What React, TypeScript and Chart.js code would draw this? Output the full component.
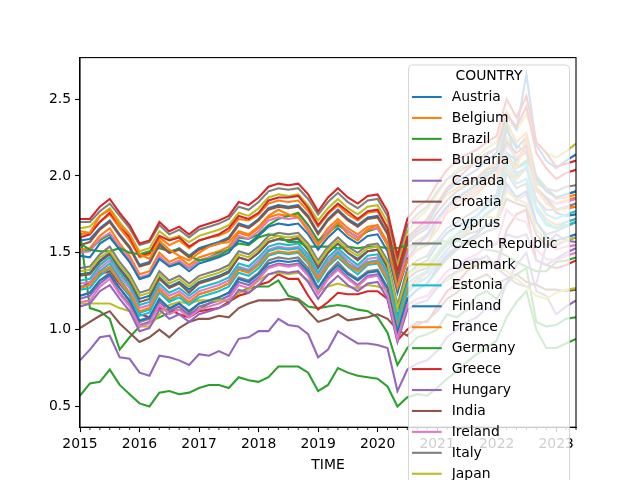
import React, { useEffect, useRef } from 'react';
import { Chart, registerables } from 'chart.js';

Chart.register(...registerables);

// bi-monthly sampling, Jan 2015 .. May 2023
const TIME = [
  '2015-01', '2015-03', '2015-05', '2015-07', '2015-09', '2015-11',
  '2016-01', '2016-03', '2016-05', '2016-07', '2016-09', '2016-11',
  '2017-01', '2017-03', '2017-05', '2017-07', '2017-09', '2017-11',
  '2018-01', '2018-03', '2018-05', '2018-07', '2018-09', '2018-11',
  '2019-01', '2019-03', '2019-05', '2019-07', '2019-09', '2019-11',
  '2020-01', '2020-03', '2020-05', '2020-07', '2020-09', '2020-11',
  '2021-01', '2021-03', '2021-05', '2021-07', '2021-09', '2021-11',
  '2022-01', '2022-03', '2022-05', '2022-07', '2022-09', '2022-11',
  '2023-01', '2023-03', '2023-05',
];

const X_TICKS = ['2015', '2016', '2017', '2018', '2019', '2020', '2021', '2022', '2023'];
const Y_TICKS = [0.5, 1.0, 1.5, 2.0, 2.5];

const AUSTRIA = [1.36,1.37,1.45,1.50,1.40,1.32,1.20,1.22,1.34,1.28,1.31,1.26,1.31,1.33,1.35,1.38,1.47,1.45,1.50,1.57,1.59,1.58,1.59,1.52,1.41,1.50,1.56,1.50,1.46,1.51,1.52,1.41,1.13,1.36,1.42,1.45,1.55,1.63,1.67,1.71,1.74,1.80,1.84,2.15,2.10,2.20,1.92,1.85,1.76,1.74,1.75];
const BELGIUM = [1.62,1.63,1.70,1.75,1.66,1.58,1.47,1.49,1.60,1.55,1.58,1.53,1.58,1.60,1.61,1.64,1.72,1.71,1.75,1.82,1.84,1.83,1.84,1.77,1.67,1.75,1.81,1.75,1.71,1.76,1.77,1.66,1.38,1.60,1.66,1.70,1.80,1.88,1.92,1.96,1.99,2.05,2.08,2.35,2.22,2.28,2.00,1.92,1.85,1.86,1.88];
const BRAZIL = [1.64,1.14,1.12,1.07,0.87,0.95,1.02,1.05,1.08,1.11,1.13,1.10,1.13,1.17,1.20,1.18,1.24,1.27,1.28,1.28,1.32,1.22,1.20,1.15,1.14,1.15,1.16,1.15,1.13,1.12,1.08,0.98,0.77,0.88,0.95,0.97,1.00,1.10,1.08,1.13,1.22,1.25,1.20,1.30,1.36,1.40,1.05,1.02,1.03,1.07,1.08];
const BULGARIA = [1.27,1.31,1.36,1.38,1.30,1.22,1.10,1.08,1.14,1.13,1.10,1.08,1.12,1.13,1.14,1.18,1.22,1.24,1.29,1.31,1.36,1.33,1.33,1.22,1.13,1.18,1.24,1.23,1.23,1.25,1.25,1.20,0.93,1.00,1.05,1.05,1.15,1.25,1.30,1.38,1.42,1.45,1.42,1.65,1.75,1.78,1.45,1.42,1.40,1.42,1.45];
const CANADA = [0.80,0.87,0.95,0.96,0.82,0.81,0.72,0.70,0.83,0.82,0.80,0.77,0.84,0.83,0.86,0.83,0.94,0.95,0.99,0.99,1.07,1.03,1.02,0.97,0.82,0.87,0.99,0.95,0.91,0.91,0.90,0.88,0.60,0.74,0.78,0.80,0.86,0.95,1.00,1.05,1.08,1.14,1.12,1.30,1.42,1.50,1.25,1.22,1.10,1.15,1.19];
const CROATIA = [1.35,1.36,1.44,1.49,1.39,1.31,1.18,1.20,1.33,1.27,1.30,1.24,1.30,1.32,1.34,1.37,1.47,1.45,1.50,1.57,1.59,1.58,1.60,1.52,1.40,1.50,1.56,1.50,1.45,1.51,1.52,1.40,1.10,1.33,1.38,1.40,1.48,1.55,1.58,1.62,1.64,1.68,1.70,1.85,1.82,1.80,1.62,1.55,1.55,1.58,1.60];
const CYPRUS = [1.30,1.31,1.40,1.45,1.35,1.27,1.14,1.16,1.28,1.22,1.25,1.20,1.25,1.27,1.29,1.32,1.41,1.39,1.45,1.52,1.54,1.53,1.54,1.47,1.35,1.45,1.51,1.45,1.40,1.46,1.47,1.35,1.04,1.27,1.32,1.34,1.42,1.50,1.54,1.57,1.60,1.64,1.66,1.92,1.84,1.88,1.65,1.58,1.52,1.54,1.55];
const CZECH_REPUBLIC = [1.22,1.24,1.32,1.37,1.27,1.18,1.05,1.07,1.20,1.13,1.17,1.11,1.17,1.19,1.21,1.24,1.34,1.32,1.37,1.45,1.47,1.46,1.47,1.40,1.27,1.37,1.44,1.37,1.33,1.38,1.39,1.27,0.96,1.20,1.26,1.30,1.38,1.46,1.52,1.56,1.60,1.64,1.66,2.02,1.92,1.95,1.70,1.62,1.64,1.67,1.70];
const DENMARK = [1.66,1.67,1.74,1.79,1.70,1.62,1.51,1.53,1.64,1.59,1.61,1.57,1.61,1.63,1.65,1.68,1.76,1.74,1.79,1.86,1.88,1.87,1.88,1.81,1.71,1.79,1.85,1.79,1.75,1.80,1.81,1.70,1.42,1.64,1.72,1.78,1.88,1.98,2.04,2.08,2.12,2.18,2.22,2.42,2.30,2.40,2.22,2.15,2.12,2.16,2.21];
const ESTONIA = [1.28,1.29,1.38,1.43,1.33,1.24,1.11,1.13,1.26,1.19,1.23,1.17,1.23,1.25,1.27,1.30,1.40,1.38,1.43,1.51,1.53,1.52,1.53,1.46,1.33,1.43,1.50,1.43,1.39,1.44,1.45,1.33,1.02,1.25,1.33,1.38,1.48,1.58,1.62,1.68,1.74,1.82,1.88,2.15,2.05,2.08,1.85,1.75,1.72,1.75,1.77];
const FINLAND = [1.58,1.59,1.66,1.71,1.62,1.54,1.42,1.44,1.56,1.50,1.53,1.48,1.53,1.55,1.57,1.60,1.69,1.67,1.72,1.79,1.81,1.80,1.81,1.74,1.63,1.72,1.78,1.72,1.68,1.73,1.74,1.63,1.34,1.58,1.64,1.68,1.80,1.90,1.96,2.00,2.04,2.10,2.15,2.40,2.30,2.66,2.20,2.10,2.05,2.10,2.14];
const FRANCE = [1.52,1.53,1.61,1.66,1.56,1.48,1.36,1.38,1.50,1.44,1.47,1.42,1.47,1.49,1.51,1.54,1.63,1.61,1.66,1.73,1.75,1.74,1.75,1.68,1.57,1.66,1.72,1.66,1.62,1.67,1.68,1.57,1.28,1.52,1.58,1.62,1.72,1.80,1.85,1.88,1.92,1.98,2.02,2.25,2.12,2.15,1.90,1.86,1.82,1.84,1.86];
const GERMANY = [1.50,1.52,1.58,1.62,1.52,1.45,1.33,1.35,1.46,1.42,1.44,1.40,1.45,1.47,1.50,1.52,1.60,1.59,1.62,1.68,1.72,1.74,1.76,1.68,1.58,1.63,1.68,1.64,1.60,1.64,1.66,1.55,1.28,1.45,1.52,1.55,1.70,1.80,1.86,1.90,1.95,2.02,2.05,2.35,2.05,2.10,2.00,1.92,1.86,1.88,1.90];
const GREECE = [1.60,1.62,1.70,1.76,1.68,1.60,1.48,1.50,1.61,1.58,1.60,1.54,1.58,1.60,1.62,1.66,1.74,1.72,1.76,1.84,1.86,1.86,1.87,1.79,1.68,1.76,1.82,1.77,1.72,1.77,1.78,1.66,1.38,1.60,1.66,1.72,1.82,1.92,1.98,2.04,2.10,2.14,2.18,2.40,2.32,2.45,2.15,2.05,1.98,2.02,2.04];
const HUNGARY = [1.20,1.22,1.30,1.35,1.24,1.16,1.03,1.05,1.18,1.12,1.15,1.09,1.15,1.17,1.19,1.22,1.31,1.29,1.34,1.41,1.43,1.42,1.43,1.36,1.24,1.34,1.40,1.34,1.29,1.35,1.36,1.24,0.94,1.16,1.20,1.22,1.30,1.38,1.42,1.45,1.46,1.44,1.40,1.35,1.30,1.28,1.30,1.55,1.62,1.58,1.57];
const INDIA = [1.01,1.05,1.09,1.12,1.04,0.98,0.92,0.95,1.00,0.95,1.01,1.05,1.07,1.07,1.09,1.08,1.14,1.17,1.19,1.19,1.19,1.20,1.19,1.12,1.05,1.07,1.10,1.06,1.07,1.08,1.10,1.07,1.00,0.96,1.03,1.06,1.12,1.20,1.24,1.30,1.33,1.36,1.30,1.33,1.36,1.31,1.29,1.26,1.26,1.25,1.26];
const IRELAND = [1.50,1.51,1.59,1.63,1.54,1.46,1.34,1.36,1.48,1.42,1.45,1.40,1.45,1.47,1.49,1.52,1.61,1.59,1.64,1.71,1.73,1.72,1.73,1.66,1.55,1.64,1.70,1.64,1.60,1.65,1.66,1.55,1.27,1.50,1.56,1.60,1.70,1.78,1.83,1.87,1.90,1.95,1.98,2.20,2.12,2.18,1.92,1.86,1.82,1.83,1.85];
const ITALY = [1.70,1.70,1.77,1.82,1.74,1.66,1.55,1.57,1.68,1.62,1.65,1.60,1.65,1.67,1.69,1.72,1.80,1.78,1.83,1.90,1.92,1.91,1.92,1.85,1.75,1.83,1.89,1.83,1.79,1.84,1.85,1.74,1.46,1.68,1.75,1.80,1.90,1.98,2.02,2.06,2.10,2.15,2.18,2.30,2.20,2.15,1.95,1.92,1.90,1.93,1.94];
const JAPAN = [1.17,1.17,1.17,1.17,1.14,1.12,1.02,1.02,1.10,1.16,1.18,1.17,1.19,1.19,1.19,1.19,1.24,1.26,1.32,1.36,1.37,1.36,1.37,1.32,1.25,1.28,1.30,1.28,1.27,1.29,1.28,1.26,1.12,1.16,1.20,1.22,1.28,1.32,1.37,1.40,1.43,1.45,1.40,1.38,1.33,1.28,1.22,1.20,1.24,1.26,1.27];
const LATVIA = [1.26,1.27,1.35,1.40,1.31,1.22,1.09,1.11,1.24,1.18,1.21,1.16,1.21,1.23,1.25,1.28,1.37,1.35,1.40,1.48,1.50,1.49,1.50,1.43,1.31,1.41,1.47,1.41,1.36,1.42,1.43,1.31,1.01,1.24,1.30,1.34,1.44,1.52,1.58,1.63,1.68,1.75,1.80,2.05,1.95,1.98,1.78,1.68,1.66,1.68,1.70];
const LITHUANIA = [1.22,1.24,1.32,1.36,1.27,1.19,1.06,1.08,1.20,1.14,1.17,1.12,1.17,1.19,1.21,1.24,1.33,1.31,1.36,1.43,1.45,1.44,1.45,1.38,1.27,1.36,1.42,1.36,1.32,1.37,1.38,1.27,0.98,1.20,1.26,1.30,1.40,1.48,1.53,1.58,1.62,1.68,1.72,1.95,1.86,1.90,1.70,1.60,1.58,1.60,1.62];
const LUXEMBOURG = [1.27,1.29,1.37,1.41,1.31,1.24,1.12,1.14,1.26,1.20,1.23,1.18,1.23,1.25,1.27,1.30,1.39,1.37,1.42,1.49,1.51,1.50,1.51,1.44,1.33,1.42,1.48,1.42,1.38,1.43,1.44,1.33,1.05,1.27,1.33,1.37,1.47,1.55,1.60,1.64,1.68,1.75,1.80,2.05,1.98,2.05,1.80,1.72,1.68,1.70,1.72];
const MALTA = [1.56,1.52,1.51,1.51,1.53,1.50,1.49,1.51,1.53,1.51,1.52,1.48,1.45,1.46,1.48,1.52,1.56,1.55,1.60,1.62,1.61,1.57,1.57,1.54,1.54,1.54,1.53,1.54,1.53,1.54,1.54,1.53,1.53,1.55,1.55,1.55,1.58,1.57,1.58,1.56,1.55,1.52,1.51,1.48,1.44,1.41,1.38,1.38,1.44,1.45,1.47];
const NETHERLANDS = [1.72,1.72,1.80,1.85,1.76,1.68,1.56,1.58,1.70,1.64,1.67,1.62,1.67,1.69,1.71,1.74,1.83,1.81,1.86,1.93,1.95,1.94,1.95,1.88,1.77,1.86,1.92,1.86,1.82,1.87,1.88,1.77,1.48,1.72,1.80,1.84,1.95,2.04,2.10,2.14,2.17,2.22,2.26,2.50,2.38,2.52,2.22,2.15,2.06,2.08,2.10];
const POLAND = [1.15,1.17,1.25,1.29,1.20,1.12,0.99,1.01,1.13,1.07,1.10,1.05,1.10,1.12,1.14,1.17,1.26,1.24,1.29,1.36,1.38,1.37,1.38,1.31,1.20,1.29,1.35,1.29,1.25,1.30,1.31,1.20,0.92,1.13,1.17,1.19,1.27,1.34,1.38,1.42,1.45,1.48,1.40,1.62,1.60,1.62,1.45,1.42,1.46,1.50,1.53];
const PORTUGAL = [1.55,1.57,1.65,1.70,1.61,1.53,1.41,1.43,1.55,1.50,1.52,1.47,1.52,1.54,1.56,1.59,1.68,1.66,1.71,1.78,1.80,1.79,1.80,1.73,1.62,1.71,1.77,1.71,1.67,1.72,1.73,1.62,1.33,1.56,1.62,1.66,1.76,1.84,1.90,1.94,1.98,2.04,2.06,2.22,2.15,2.20,1.92,1.86,1.78,1.79,1.80];
const ROMANIA = [1.18,1.19,1.28,1.33,1.23,1.15,1.02,1.04,1.16,1.10,1.13,1.08,1.13,1.15,1.17,1.20,1.29,1.27,1.33,1.40,1.42,1.41,1.42,1.35,1.23,1.33,1.39,1.33,1.28,1.34,1.35,1.23,0.94,1.16,1.20,1.22,1.30,1.38,1.42,1.46,1.49,1.54,1.56,1.78,1.72,1.70,1.52,1.46,1.45,1.48,1.50];
const SLOVAKIA = [1.40,1.41,1.49,1.54,1.44,1.36,1.24,1.26,1.38,1.32,1.35,1.30,1.35,1.37,1.39,1.42,1.51,1.49,1.54,1.61,1.63,1.62,1.63,1.56,1.45,1.54,1.60,1.54,1.50,1.55,1.56,1.45,1.16,1.40,1.45,1.48,1.58,1.66,1.70,1.74,1.78,1.84,1.88,2.12,2.02,2.05,1.85,1.78,1.78,1.80,1.82];
const SLOVENIA = [1.38,1.39,1.47,1.51,1.42,1.34,1.22,1.24,1.36,1.30,1.33,1.28,1.33,1.35,1.37,1.40,1.49,1.47,1.52,1.59,1.61,1.60,1.61,1.54,1.43,1.52,1.58,1.52,1.48,1.53,1.54,1.43,1.14,1.36,1.40,1.42,1.50,1.58,1.62,1.66,1.70,1.74,1.72,1.90,1.85,1.82,1.65,1.58,1.56,1.58,1.60];
const SPAIN = [1.32,1.33,1.42,1.47,1.37,1.29,1.16,1.18,1.30,1.24,1.27,1.22,1.27,1.29,1.31,1.34,1.43,1.41,1.47,1.54,1.56,1.55,1.56,1.49,1.37,1.47,1.53,1.47,1.42,1.48,1.49,1.37,1.07,1.30,1.35,1.38,1.48,1.56,1.62,1.66,1.70,1.76,1.80,2.08,2.00,2.06,1.80,1.70,1.66,1.70,1.72];
const SWEDEN = [1.48,1.47,1.56,1.60,1.52,1.44,1.33,1.35,1.46,1.41,1.43,1.38,1.43,1.45,1.47,1.50,1.58,1.56,1.61,1.67,1.69,1.68,1.69,1.62,1.52,1.60,1.66,1.60,1.56,1.61,1.62,1.51,1.24,1.46,1.55,1.62,1.72,1.80,1.86,1.90,1.94,2.00,2.04,2.30,2.18,2.25,1.98,1.90,1.86,1.88,1.90];
const UNITED_KINGDOM = [1.64,1.63,1.74,1.78,1.68,1.62,1.49,1.46,1.58,1.52,1.48,1.45,1.50,1.54,1.56,1.57,1.64,1.62,1.67,1.74,1.78,1.75,1.73,1.64,1.55,1.62,1.70,1.62,1.58,1.65,1.68,1.55,1.27,1.45,1.52,1.56,1.65,1.76,1.80,1.85,1.88,1.95,1.98,2.12,2.05,2.25,1.92,1.82,1.78,1.79,1.80];
const UNITED_STATES = [0.57,0.65,0.66,0.74,0.64,0.58,0.52,0.50,0.59,0.60,0.58,0.59,0.62,0.64,0.64,0.62,0.69,0.67,0.66,0.69,0.76,0.76,0.76,0.72,0.60,0.64,0.75,0.72,0.70,0.69,0.68,0.63,0.50,0.56,0.58,0.57,0.62,0.68,0.73,0.79,0.84,0.88,0.93,1.08,1.18,1.25,1.00,0.88,0.88,0.91,0.94];

const COUNTRIES = [
  'Austria', 'Belgium', 'Brazil', 'Bulgaria', 'Canada', 'Croatia', 'Cyprus',
  'Czech Republic', 'Denmark', 'Estonia', 'Finland', 'France', 'Germany',
  'Greece', 'Hungary', 'India', 'Ireland', 'Italy', 'Japan', 'Latvia',
  'Lithuania', 'Luxembourg', 'Malta', 'Netherlands', 'Poland', 'Portugal',
  'Romania', 'Slovakia', 'Slovenia', 'Spain', 'Sweden', 'United Kingdom',
  'United States',
];

const SERIES = [
  AUSTRIA, BELGIUM, BRAZIL, BULGARIA, CANADA, CROATIA, CYPRUS,
  CZECH_REPUBLIC, DENMARK, ESTONIA, FINLAND, FRANCE, GERMANY,
  GREECE, HUNGARY, INDIA, IRELAND, ITALY, JAPAN, LATVIA,
  LITHUANIA, LUXEMBOURG, MALTA, NETHERLANDS, POLAND, PORTUGAL,
  ROMANIA, SLOVAKIA, SLOVENIA, SPAIN, SWEDEN, UNITED_KINGDOM,
  UNITED_STATES,
];

// matplotlib tab10 cycle
const COLORS = ['#1f77b4', '#ff7f0e', '#2ca02c', '#d62728', '#9467bd', '#8c564b', '#e377c2', '#7f7f7f', '#bcbd22', '#17becf'];

const FONT = { family: 'DejaVu Sans', size: 13.9 };

// months since Jan 2015
const toMonth = (t: string) => {
  const [y, m] = t.split('-').map(Number);
  return (y - 2015) * 12 + (m - 1);
};

const framePlugin = {
  id: 'frame',
  afterDatasetsDraw(chart: any) {
    const { ctx, chartArea: a } = chart;
    ctx.save();
    ctx.strokeStyle = '#000';
    ctx.lineWidth = 1.1;
    ctx.strokeRect(a.left, a.top, a.right - a.left, a.bottom - a.top);
    // minor ticks every two months
    const xs = chart.scales.x;
    ctx.lineWidth = 0.85;
    for (let m = 0; m <= xs.max; m += 2) {
      if (m % 12 === 0) continue;
      const px = xs.getPixelForValue(m);
      ctx.beginPath();
      ctx.moveTo(px, a.bottom);
      ctx.lineTo(px, a.bottom + 2.8);
      ctx.stroke();
    }
    ctx.restore();
  },
};

// legend box drawn over the axes, like matplotlib's framealpha 0.8
const legendPlugin = {
  id: 'countryLegend',
  afterDraw(chart: any) {
    const { ctx } = chart;
    const left = 408.5, top = 65, w = 161, h = 560, r = 4;
    ctx.save();
    ctx.beginPath();
    ctx.moveTo(left + r, top);
    ctx.lineTo(left + w - r, top);
    ctx.quadraticCurveTo(left + w, top, left + w, top + r);
    ctx.lineTo(left + w, top + h);
    ctx.lineTo(left, top + h);
    ctx.lineTo(left, top + r);
    ctx.quadraticCurveTo(left, top, left + r, top);
    ctx.closePath();
    ctx.fillStyle = 'rgba(255,255,255,0.8)';
    ctx.fill();
    ctx.strokeStyle = 'rgba(204,204,204,0.8)';
    ctx.lineWidth = 1;
    ctx.stroke();

    ctx.font = `${FONT.size}px "${FONT.family}"`;
    ctx.fillStyle = '#000';
    ctx.textBaseline = 'middle';
    ctx.textAlign = 'center';
    ctx.fillText('COUNTRY', left + w / 2, 76.5);
    ctx.textAlign = 'left';
    chart.data.datasets.forEach((ds: any, i: number) => {
      const y = 97 + i * 20.93;
      ctx.strokeStyle = ds.borderColor;
      ctx.lineWidth = 2.08;
      ctx.beginPath();
      ctx.moveTo(412, y);
      ctx.lineTo(441.7, y);
      ctx.stroke();
      ctx.fillStyle = '#000';
      ctx.fillText(ds.label, 451.7, y + 0.5);
    });
    ctx.restore();
  },
};

export default function App() {
  const canvasRef = useRef<HTMLCanvasElement>(null);
  const chartRef = useRef<Chart | null>(null);

  useEffect(() => {
    if (!canvasRef.current) return;
    if (chartRef.current) chartRef.current.destroy();

    const datasets = COUNTRIES.map((name, i) => ({
      label: name,
      data: TIME.map((t, k) => ({ x: toMonth(t), y: SERIES[i][k] })),
      borderColor: COLORS[i % 10],
      backgroundColor: COLORS[i % 10],
      borderWidth: 2.08,
      pointRadius: 0,
      tension: 0,
      order: COUNTRIES.length - i,
    }));

    chartRef.current = new Chart(canvasRef.current, {
      type: 'line',
      data: { datasets },
      options: {
        animation: false,
        responsive: false,
        devicePixelRatio: 1,
        layout: { padding: { top: 57.6, right: 64, bottom: 0, left: 0 } },
        plugins: { legend: { display: false }, tooltip: { enabled: false } },
        scales: {
          x: {
            type: 'linear',
            min: 0,
            max: toMonth(TIME[TIME.length - 1]),
            afterFit: (s: any) => { s.height = 52.8; },
            afterBuildTicks: (s: any) => {
              s.ticks = X_TICKS.map((y) => ({ value: (Number(y) - 2015) * 12 }));
            },
            ticks: {
              callback: (v: any) => X_TICKS[Math.round(Number(v) / 12)],
              font: FONT,
              color: '#000',
              padding: 4,
              maxRotation: 0,
              autoSkip: false,
            },
            grid: { drawOnChartArea: false, drawTicks: true, tickLength: 4.9, tickColor: '#000', tickWidth: 1.1 },
            border: { display: true, color: '#000', width: 1.1 },
            title: { display: true, text: 'TIME', font: FONT, color: '#000', padding: { top: 2, bottom: 6 } },
          },
          y: {
            type: 'linear',
            min: 0.365,
            max: 2.77,
            afterFit: (s: any) => { s.width = 80; },
            afterBuildTicks: (s: any) => {
              s.ticks = Y_TICKS.map((v) => ({ value: v }));
            },
            ticks: {
              callback: (v: any) => Number(v).toFixed(1),
              font: FONT,
              color: '#000',
              padding: 4,
            },
            grid: { drawOnChartArea: false, drawTicks: true, tickLength: 4.9, tickColor: '#000', tickWidth: 1.1 },
            border: { display: true, color: '#000', width: 1.1 },
          },
        },
      },
      plugins: [framePlugin, legendPlugin],
    });

    return () => {
      if (chartRef.current) {
        chartRef.current.destroy();
        chartRef.current = null;
      }
    };
  }, []);

  return (
    <div style={{ position: 'absolute', left: 0, top: 0, width: 640, height: 480, background: '#fff' }}>
      <canvas ref={canvasRef} width={640} height={480} style={{ display: 'block' }} />
    </div>
  );
}
